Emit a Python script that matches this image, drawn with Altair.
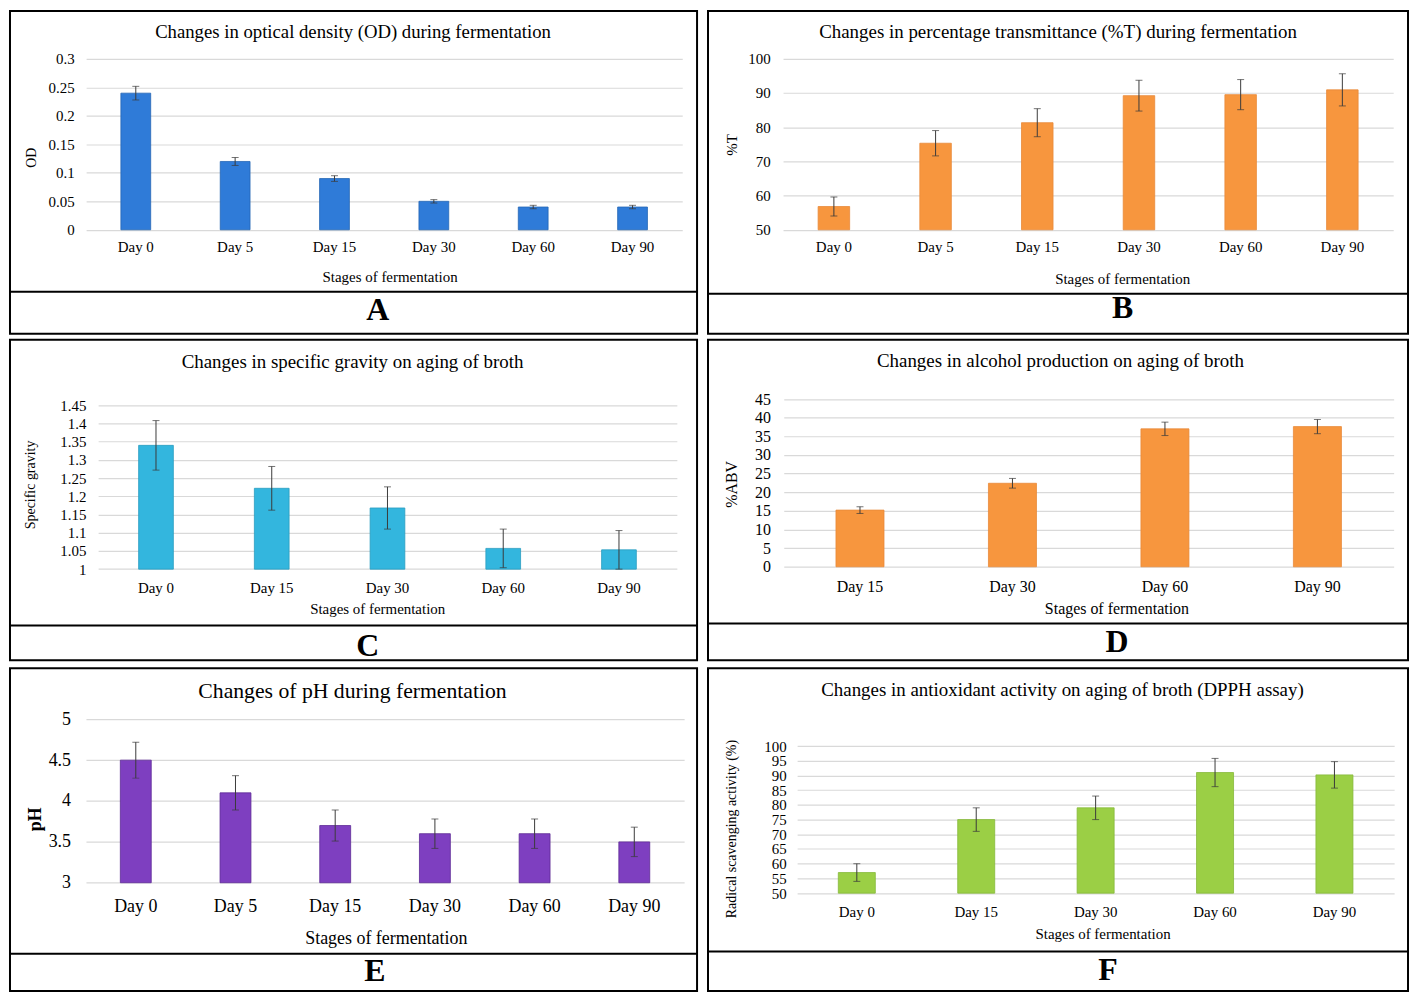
import altair as alt
import pandas as pd

FONT = "Liberation Serif"

# ---------------- data ----------------
days6 = ["Day 0", "Day 5", "Day 15", "Day 30", "Day 60", "Day 90"]
days5 = ["Day 0", "Day 15", "Day 30", "Day 60", "Day 90"]
days4 = ["Day 15", "Day 30", "Day 60", "Day 90"]

od_vals = [0.24, 0.12, 0.09, 0.05, 0.04, 0.04]
od_err = [0.012, 0.007, 0.005, 0.003, 0.003, 0.003]
od_ticks = [0, 0.05, 0.1, 0.15, 0.2, 0.25, 0.3]

t_vals = [56.8, 75.3, 81.3, 89.2, 89.5, 90.9]
t_err = [2.8, 3.7, 4.1, 4.5, 4.4, 4.7]
t_ticks = [50, 60, 70, 80, 90, 100]

sg_vals = [1.340, 1.222, 1.168, 1.057, 1.053]
sg_err = [0.068, 0.060, 0.058, 0.053, 0.053]
sg_ticks = [1, 1.05, 1.1, 1.15, 1.2, 1.25, 1.3, 1.35, 1.4, 1.45]

abv_vals = [15.2, 22.4, 37.0, 37.6]
abv_err = [0.9, 1.3, 1.8, 1.9]
abv_ticks = [0, 5, 10, 15, 20, 25, 30, 35, 40, 45]

ph_vals = [4.5, 4.1, 3.7, 3.6, 3.6, 3.5]
ph_err = [0.22, 0.21, 0.19, 0.18, 0.18, 0.18]
ph_ticks = [3, 3.5, 4, 4.5, 5]

dpph_vals = [57.0, 75.0, 79.0, 91.0, 90.2]
dpph_err = [3.0, 4.0, 4.0, 4.8, 4.5]
dpph_ticks = [50, 55, 60, 65, 70, 75, 80, 85, 90, 95, 100]

XTITLE = "Stages of fermentation"

# ---------------- layout (reference-local pixel geometry) ----------------
LEFT_W, RIGHT_W = 690, 703
ROW_H = [324, 322, 324]


def panel(cats, vals, errs, ticks, fmt, color, edge, title, ytitle, letter,
          geo, W, H, fs):
    refW, refH = geo["ref"]
    sx, sy = W / refW, H / refH
    one = pd.DataFrame({"a": [0]})
    df = pd.DataFrame({"day": cats, "v": vals, "e": errs})
    base = alt.Chart(df).transform_calculate(
        lo="datum.v - datum.e", hi="datum.v + datum.e")

    y_bottom = geo["y0"] * sy
    xs = alt.Scale(domain=cats, range=[geo["gx0"] * sx, geo["gx1"] * sx],
                   paddingInner=geo["pad"], paddingOuter=geo["pad"] / 2)
    ys = alt.Scale(domain=[ticks[0], ticks[-1]],
                   range=[y_bottom, geo["y1"] * sy], nice=False, zero=False)
    xaxis = alt.Axis(title=None, labelAngle=0, labelFont=FONT,
                     labelFontSize=fs["lab"], labelColor="black",
                     domain=False, ticks=False, grid=False, labelOverlap=False,
                     labelPadding=(geo["xl"] * sy - y_bottom) - 0.45 * fs["lab"],
                     offset=y_bottom - H)
    yaxis = alt.Axis(title=None, values=ticks, format=fmt, labelFont=FONT,
                     labelFontSize=fs["ylab"], labelColor="black",
                     labelOverlap=False,
                     domain=False, ticks=False, tickSize=0, labelPadding=5,
                     offset=-(geo["yl"] * sx + 5), grid=True,
                     gridColor="#d9d9d9", gridWidth=1.2)

    x_enc = alt.X("day:N", scale=xs, axis=xaxis, sort=cats)
    bars = base.mark_bar(color=color, stroke=edge, strokeWidth=0.8).encode(
        x=x_enc,
        y=alt.Y("v:Q", scale=ys, axis=yaxis),
        y2=alt.datum(ticks[0]),
    )
    rules = base.mark_rule(color="#3a3a3a", strokeWidth=1).encode(
        x=x_enc, y=alt.Y("lo:Q", scale=ys, axis=yaxis), y2="hi:Q")
    cap_lo = base.mark_tick(color="#3a3a3a", size=7, thickness=1).encode(
        x=x_enc, y=alt.Y("lo:Q", scale=ys, axis=yaxis))
    cap_hi = base.mark_tick(color="#3a3a3a", size=7, thickness=1).encode(
        x=x_enc, y=alt.Y("hi:Q", scale=ys, axis=yaxis))

    t = alt.Chart(one).mark_text(font=FONT, fontSize=fs["title"], color="black",
                                 align="center", baseline="middle").encode(
        x=alt.value(geo["t"][0] * sx), y=alt.value(geo["t"][1] * sy),
        text=alt.value(title))
    xt = alt.Chart(one).mark_text(font=FONT, fontSize=fs["xt"], color="black",
                                  align="center", baseline="middle").encode(
        x=alt.value(geo["xt"][0] * sx), y=alt.value(geo["xt"][1] * sy),
        text=alt.value(XTITLE))
    yt = alt.Chart(one).mark_text(font=FONT, fontSize=fs["yt"], color="black",
                                  align="center", baseline="middle", angle=270,
                                  fontWeight=fs.get("ytw", "normal")).encode(
        x=alt.value(geo["yt"][0] * sx), y=alt.value(geo["yt"][1] * sy),
        text=alt.value(ytitle))
    div = alt.Chart(one).mark_rule(color="black", strokeWidth=2).encode(
        x=alt.value(0), x2=alt.value(W), y=alt.value(geo["div"] * sy))
    let = alt.Chart(one).mark_text(font=FONT, fontSize=32, fontWeight="bold",
                                   color="black", align="center",
                                   baseline="middle").encode(
        x=alt.value(geo["L"][0] * sx), y=alt.value(geo["L"][1] * sy),
        text=alt.value(letter))

    return alt.layer(bars, rules, cap_lo, cap_hi, t, xt, yt, div, let).properties(
        width=W, height=H)


fsA = dict(title=18.8, lab=15, ylab=15, xt=15, yt=14)
fsB = dict(title=19, lab=15, ylab=15, xt=15, yt=15)
fsC = dict(title=19, lab=15, ylab=15, xt=15, yt=14)
fsD = dict(title=19, lab=16, ylab=16, xt=16, yt=16)
fsE = dict(title=21.8, lab=18, ylab=18, xt=18, yt=18, ytw="bold")
fsF = dict(title=19, lab=15, ylab=15, xt=15, yt=14)

A = panel(days6, od_vals, od_err, od_ticks, ".2~f", "#2F7BD8", "#2566B5",
          "Changes in optical density (OD) during fermentation", "OD", "A",
          dict(ref=(695, 330), gx0=77, gx1=680, y0=223.7, y1=49, yl=65, xl=241,
               pad=0.70, t=(347, 21), xt=(384.5, 272), yt=(22, 150), div=287,
               L=(372, 306)),
          LEFT_W, ROW_H[0], fsA)

B = panel(days6, t_vals, t_err, t_ticks, "d", "#F7963E", "#E8893A",
          "Changes in  percentage transmittance  (%T) during  fermentation", "%T", "B",
          dict(ref=(709, 330), gx0=76, gx1=694, y0=223.7, y1=48.7, yl=63, xl=241,
               pad=0.69, t=(354.5, 21), xt=(420, 274), yt=(24, 137), div=289,
               L=(420, 304)),
          RIGHT_W, ROW_H[0], fsB)

C = panel(days5, sg_vals, sg_err, sg_ticks, ".2~f", "#33B6DE", "#2A9CC0",
          "Changes in specific gravity  on aging  of broth", "Specific  gravity", "C",
          dict(ref=(697, 326), gx0=89.4, gx1=676.5, y0=233.3, y1=66.7, yl=77, xl=252,
               pad=0.70, t=(347.5, 22.7), xt=(373, 273.7), yt=(21.5, 147.7),
               div=290.7, L=(363, 311)),
          LEFT_W, ROW_H[1], fsC)

D = panel(days4, abv_vals, abv_err, abv_ticks, "d", "#F7963E", "#E8893A",
          "Changes in alcohol production on aging of broth", "%ABV", "D",
          dict(ref=(707, 328), gx0=76.5, gx1=692.5, y0=232.3, y1=60.7, yl=63,
               xl=251.3, pad=0.685, t=(356, 22.3), xt=(413, 275.7), yt=(24, 148),
               div=290.3, L=(413, 309.7)),
          RIGHT_W, ROW_H[1], fsD)

E = panel(days6, ph_vals, ph_err, ph_ticks, ".1~f", "#7E3FC0", "#5E2A95",
          "Changes  of pH during  fermentation", "pH", "E",
          dict(ref=(692, 329), gx0=76.5, gx1=679, y0=218.7, y1=52, yl=61, xl=242,
               pad=0.69, t=(345, 22.7), xt=(379, 276), yt=(26, 154), div=291,
               L=(367.5, 309)),
          LEFT_W, ROW_H[2], fsE)

F = panel(days5, dpph_vals, dpph_err, dpph_ticks, "d", "#9BCF45", "#86B83A",
          "Changes in antioxidant  activity  on aging  of broth (DPPH assay)",
          "Radical  scavenging  activity  (%)", "F",
          dict(ref=(707, 329), gx0=90, gx1=693, y0=229.3, y1=79.3, yl=79, xl=248.3,
               pad=0.69, t=(358, 22), xt=(399, 271), yt=(24, 164), div=288.7,
               L=(404, 307.7)),
          RIGHT_W, ROW_H[2], fsF)

row1 = alt.hconcat(A, B, spacing=7)
row2 = alt.hconcat(C, D, spacing=7)
row3 = alt.hconcat(E, F, spacing=7)

chart = alt.vconcat(row1, row2, row3, spacing=4).properties(
    padding=0, background="white"
).configure_view(stroke="black", strokeWidth=2)

chart.save("out.html", embed_options={"renderer": "svg", "actions": False})
